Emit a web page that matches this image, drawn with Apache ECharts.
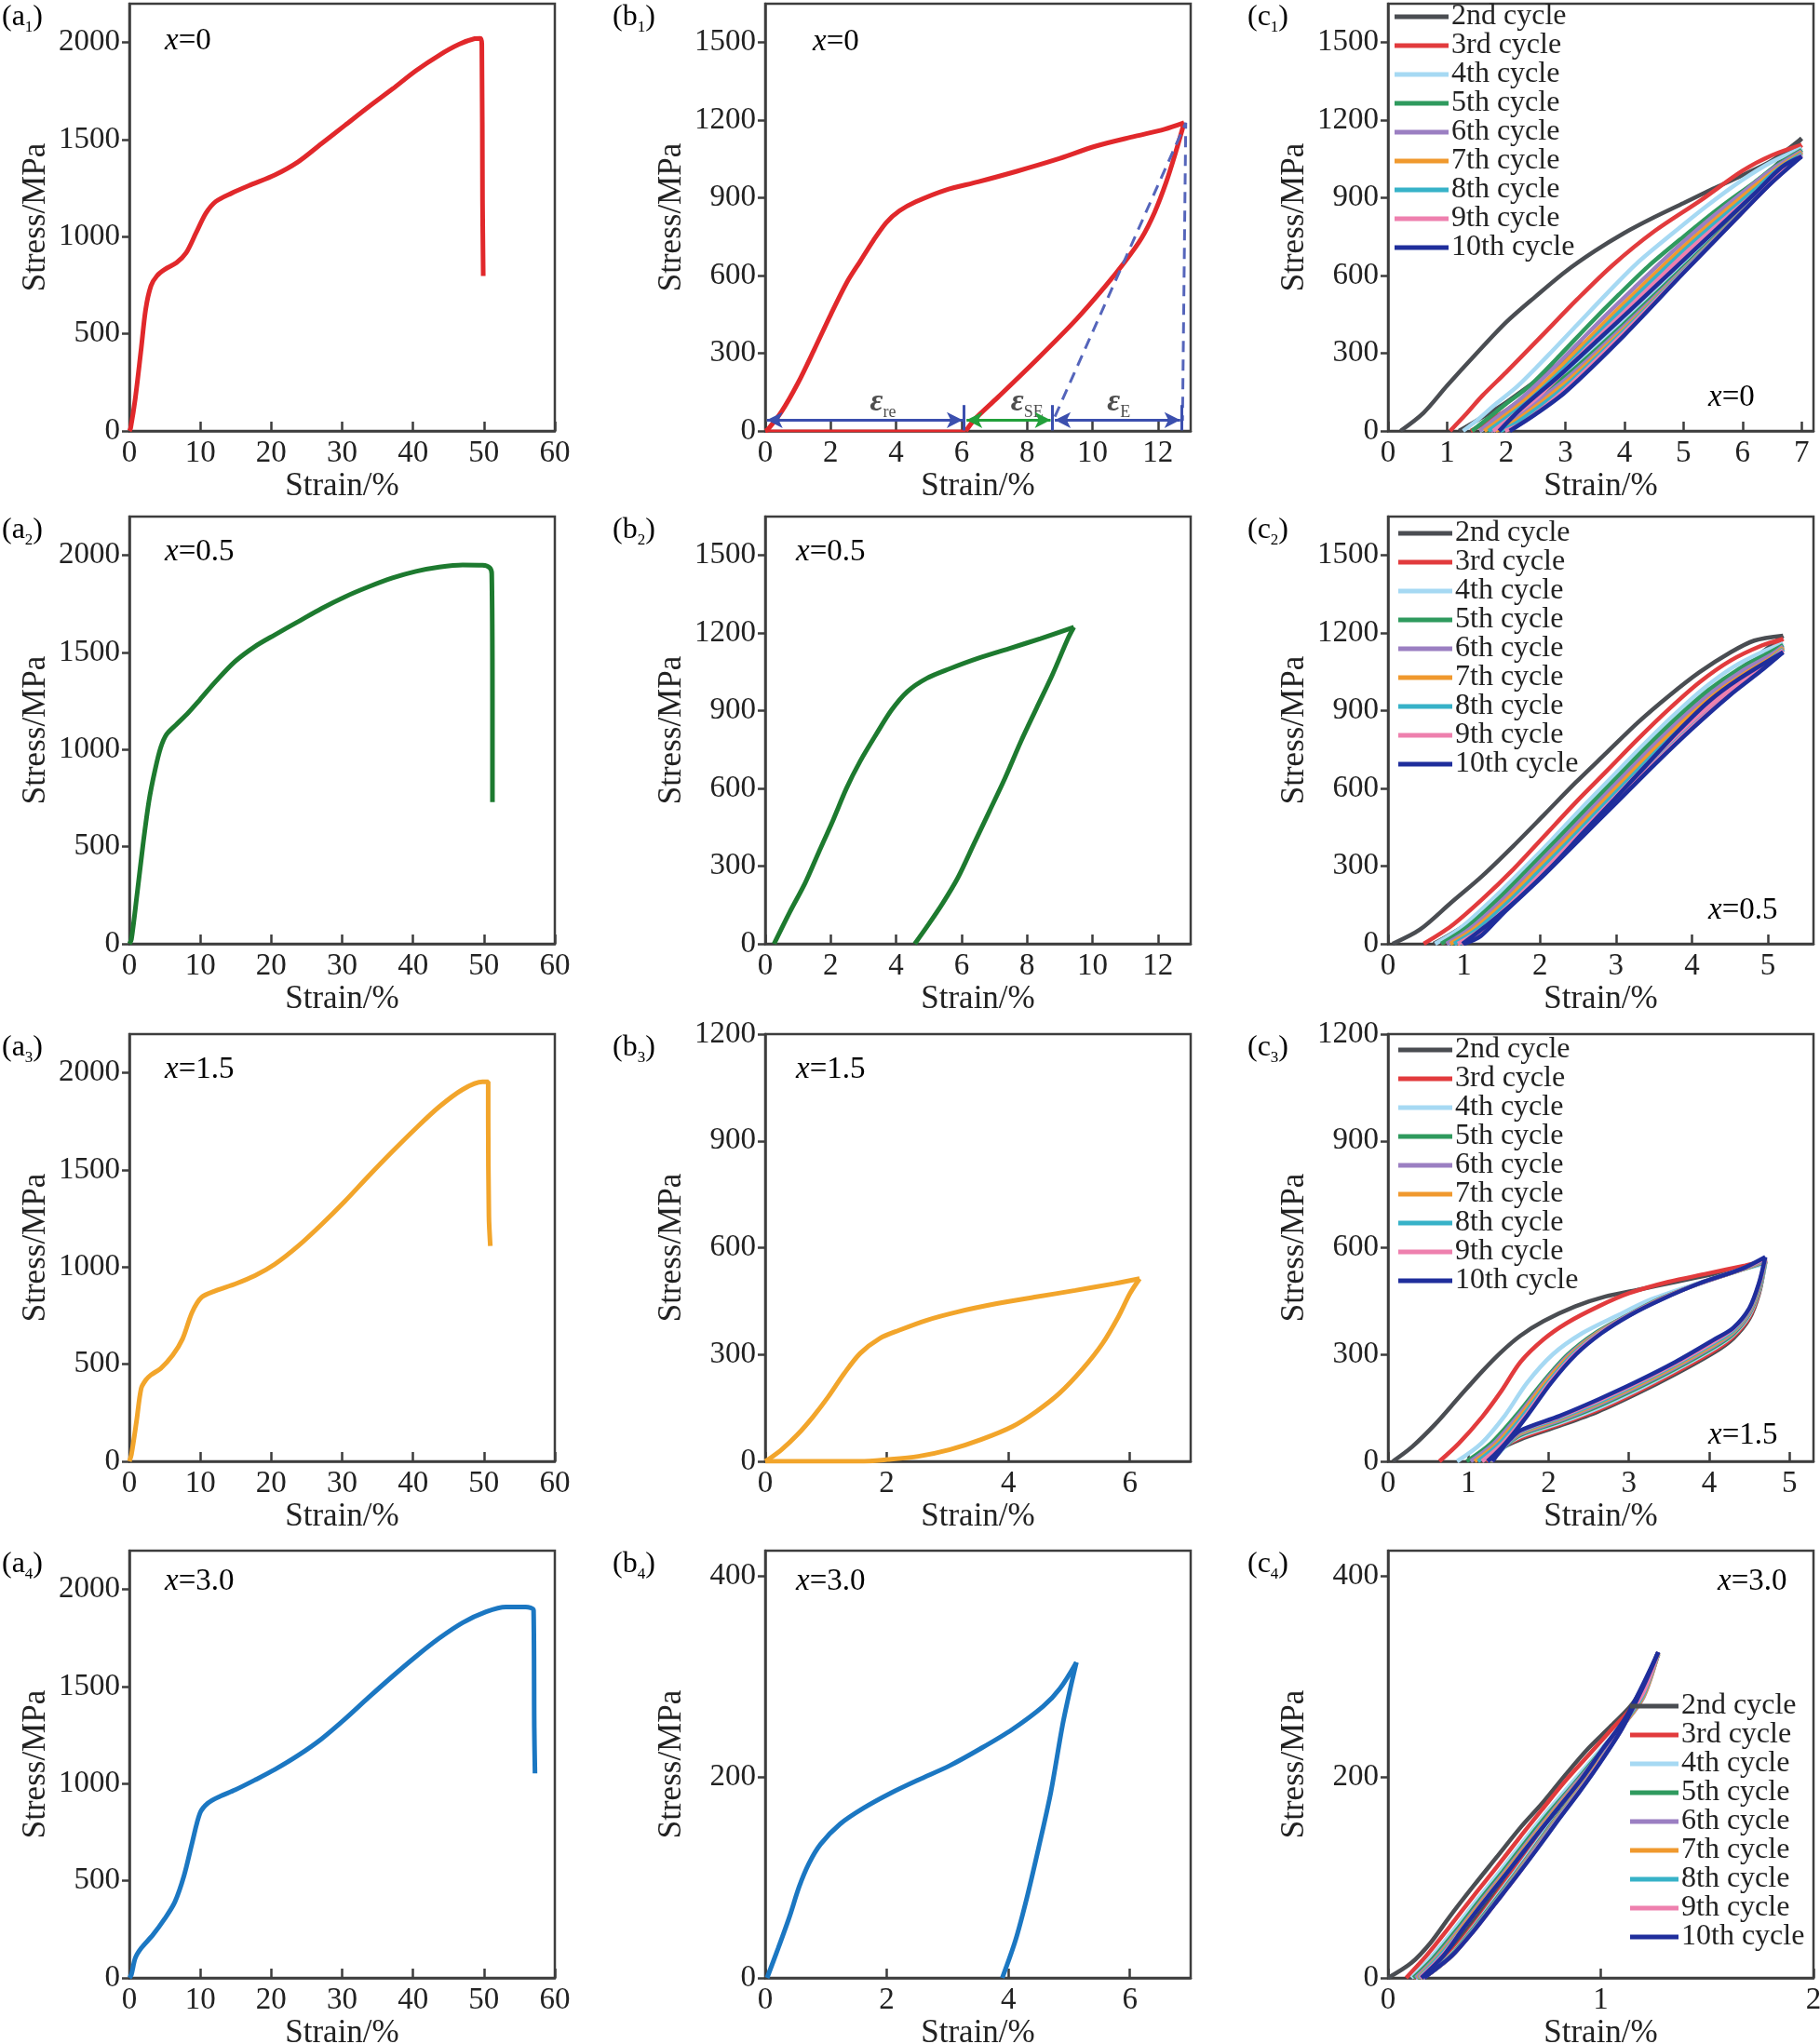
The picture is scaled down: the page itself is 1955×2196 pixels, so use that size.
<!DOCTYPE html>
<html><head><meta charset="utf-8">
<script src="https://cdn.jsdelivr.net/npm/echarts@6/dist/echarts.min.js"></script>
<style>html,body{margin:0;padding:0;background:#fff}#main{width:1955px;height:2196px}</style>
</head><body><div id="main"></div>
<script>
// ---------------- DATA ----------------
const aXTicks = [0,10,20,30,40,50,60];
const aYTicks = [0,500,1000,1500,2000];
const b12XTicks = [0,2,4,6,8,10,12];
const b12YTicks = [0,300,600,900,1200,1500];
const b3XTicks = [0,2,4,6];
const b3YTicks = [0,300,600,900,1200];
const b4XTicks = [0,2,4,6];
const b4YTicks = [0,200,400];
const c1XTicks = [0,1,2,3,4,5,6,7];
const c12YTicks = [0,300,600,900,1200,1500];
const c23XTicks = [0,1,2,3,4,5];
const c3YTicks = [0,300,600,900,1200];
const c4XTicks = [0,1,2];
const c4YTicks = [0,200,400];

const compLabels = ['x=0','x=0.5','x=1.5','x=3.0'];
const cycleNames = ['2nd cycle','3rd cycle','4th cycle','5th cycle','6th cycle','7th cycle','8th cycle','9th cycle','10th cycle'];

// tensile curves (strain %, stress MPa)
const a1Curve = [[0,0],[0.17,14],[0.83,167],[1.66,423],[2.3,627],[3.04,747],[3.87,798],[5.0,832],[6.64,866],[8.0,917],[9.4,1020],[10.8,1122],[12.2,1182],[14.4,1224],[17.1,1267],[20.5,1318],[23.8,1386],[27.1,1480],[30.4,1574],[33.7,1668],[37.1,1761],[40.4,1855],[43.7,1935],[46.5,1991],[48.7,2020],[49.5,2022],[49.7,1991],[49.8,1190],[49.9,798]];
const a2Curve = [[0,0],[0.28,22],[1.1,261],[1.94,517],[2.77,738],[3.6,892],[4.42,1011],[5.25,1079],[6.64,1130],[8.3,1190],[9.96,1258],[12.2,1352],[14.9,1454],[17.7,1531],[20.5,1591],[23.8,1659],[27.1,1727],[30.4,1787],[33.7,1838],[37.1,1884],[40.4,1918],[43.7,1940],[47,1951],[49.8,1949],[50.8,1937],[51.1,1906],[51.2,1250],[51.2,730]];
const a3Curve = [[0,0],[0.28,34],[1.0,205],[1.66,375],[2.3,418],[3.0,444],[4.4,478],[6.1,546],[7.5,631],[8.85,768],[10.2,845],[12.2,879],[14.9,913],[17.7,956],[20.5,1015],[23.8,1109],[27.1,1220],[30.4,1340],[33.7,1468],[37.1,1596],[40.4,1715],[43.7,1826],[47,1915],[49.8,1954],[50.6,1954],[50.6,1775],[50.7,1263],[50.9,1109]];
const a4Curve = [[0,0],[0.28,17],[0.83,102],[1.66,153],[3.3,221],[5.0,306],[6.4,390],[7.7,526],[8.85,696],[9.96,849],[11.06,900],[12.7,934],[14.9,968],[17.7,1019],[20.5,1073],[23.8,1146],[27.1,1231],[30.4,1333],[33.7,1443],[37.1,1553],[40.4,1655],[43.7,1749],[47,1829],[50.3,1885],[53.1,1910],[55.9,1910],[57,1893],[57.1,1290],[57.2,1053]];

// single load-unload cycles
const b1Load = [[0,0],[0.08,6],[0.5,75],[1.0,185],[1.5,315],[2.0,449],[2.5,575],[2.9,655],[3.3,735],[3.7,805],[4.1,850],[4.6,885],[5.5,930],[6.5,962],[7.69,1003],[8.89,1048],[10.1,1100],[11.3,1138],[12.2,1165],[12.8,1190]];
const b1Unload = [[12.8,1190],[12.55,1080],[12.25,960],[11.9,845],[11.5,745],[11.0,655],[10.4,560],[9.5,430],[8.3,276],[7.1,129],[6.4,45],[6.13,0]];
const b1Base = [[6.13,0],[0,0]];
const b1Dashed = [[8.85,55],[12.85,1190],[12.75,40]];
const b1Arrows = [[0.05,6.03,42],[6.15,8.72,42],[8.85,12.68,42]];
const b1Marks = [6.07,8.77,12.72];
const b1Strains = [[3.6,112,'re'],[8.0,112,'SE'],[10.8,112,'E']];

const b2Load = [[0.27,0],[0.74,120],[1.22,235],[1.64,355],[2.06,474],[2.48,600],[2.9,705],[3.38,807],[3.86,903],[4.34,974],[4.93,1025],[5.65,1063],[6.49,1102],[7.45,1140],[8.41,1179],[9.43,1223]];
const b2Unload = [[9.43,1223],[9.25,1179],[8.77,1038],[8.29,910],[7.81,781],[7.33,641],[6.85,512],[6.37,384],[5.89,256],[5.41,154],[4.93,64],[4.57,0]];

const b3Load = [[0,0],[0.05,5],[0.27,33],[0.53,75],[0.79,126],[1.04,182],[1.3,247],[1.56,303],[1.88,345],[2.2,368],[2.65,396],[3.17,420],[3.81,443],[4.46,462],[5.1,480],[5.74,499],[6.16,513]];
const b3Unload = [[6.16,513],[6.0,471],[5.81,406],[5.55,331],[5.23,261],[4.84,191],[4.46,140],[4.07,98],[3.55,61],[3.04,33],[2.52,14],[2.01,5],[1.56,0],[0,0]];

const b4Load = [[0.03,0],[0.21,29],[0.4,61],[0.56,91],[0.72,114],[0.91,133],[1.23,153],[1.62,169],[2.07,184],[2.52,197],[3.03,211],[3.54,228],[4.06,247],[4.57,270],[4.85,288],[5.12,314]];
const b4Unload = [[5.12,314],[5.02,288],[4.89,251],[4.7,185],[4.5,130],[4.31,81],[4.12,38],[3.9,0]];

// cyclic curves: one loading and one unloading branch per cycle (2nd ... 10th)
const c1Load = [
 [[0.21,0],[0.6,70],[1.0,175],[1.5,300],[2.0,420],[2.5,520],[3.0,615],[3.5,695],[4.0,765],[4.5,825],[5.0,880],[5.5,935],[6.0,988],[6.5,1045],[7.0,1130]],
 [[1.05,0],[1.3,60],[1.6,137],[2.0,227],[2.6,367],[3.2,508],[3.8,640],[4.5,770],[5.3,892],[6.0,1005],[6.5,1065],[7.0,1105]],
 [[1.27,0],[1.5,40],[1.8,100],[2.2,175],[2.7,290],[3.2,410],[3.7,530],[4.2,645],[4.8,760],[5.4,870],[6.0,970],[6.5,1040],[7.0,1092]],
 [[1.42,0],[1.7,50],[2.0,105],[2.4,175],[2.9,290],[3.4,410],[3.9,525],[4.4,635],[5.0,750],[5.6,860],[6.2,960],[6.6,1030],[7.0,1085]],
 [[1.55,0],[1.8,45],[2.2,115],[2.7,220],[3.2,335],[3.7,450],[4.2,560],[4.8,690],[5.4,810],[6.0,920],[6.5,1010],[7.0,1080]],
 [[1.63,0],[1.9,45],[2.3,115],[2.8,220],[3.3,335],[3.8,450],[4.3,560],[4.9,690],[5.5,810],[6.1,925],[6.6,1015],[7.0,1075]],
 [[1.7,0],[2.0,50],[2.4,120],[2.9,225],[3.4,340],[3.9,455],[4.4,565],[5.0,695],[5.6,815],[6.2,930],[6.6,1010],[7.0,1070]],
 [[1.78,0],[2.1,55],[2.5,125],[3.0,235],[3.5,350],[4.0,460],[4.5,570],[5.1,700],[5.7,820],[6.3,935],[6.7,1015],[7.0,1065]],
 [[1.88,0],[2.25,86],[2.9,214],[3.57,355],[4.23,495],[4.89,636],[5.55,777],[6.21,918],[6.67,1020],[7.0,1060]]
];
const c1Unload = [
 [[7.0,1130],[6.5,1010],[6.0,895],[5.0,680],[4.0,470],[3.0,280],[2.0,110],[1.5,40],[1.2,0]],
 [[7.0,1105],[6.5,985],[6.0,870],[5.0,650],[4.0,440],[3.0,245],[2.0,80],[1.6,25],[1.4,0]],
 [[7.0,1092],[6.5,975],[6.0,860],[5.0,640],[4.0,425],[3.0,225],[2.0,60],[1.55,0]],
 [[7.0,1085],[6.5,970],[6.0,855],[5.0,632],[4.0,415],[3.0,210],[2.0,45],[1.65,0]],
 [[7.0,1080],[6.5,968],[6.0,852],[5.0,625],[4.0,405],[3.0,198],[2.0,30],[1.74,0]],
 [[7.0,1075],[6.5,965],[6.0,850],[5.0,620],[4.0,395],[3.0,185],[2.2,45],[1.82,0]],
 [[7.0,1070],[6.5,962],[6.0,848],[5.0,617],[4.0,388],[3.0,172],[2.2,35],[1.9,0]],
 [[7.0,1065],[6.5,961],[6.0,846],[5.0,613],[4.0,380],[3.0,160],[2.3,35],[1.98,0]],
 [[7.0,1060],[6.5,960],[6.0,845],[5.0,610],[4.0,370],[3.0,150],[2.5,65],[2.06,0]]
];
const c2Load = [
 [[0.06,0],[0.42,55],[0.83,159],[1.24,262],[1.65,378],[2.06,500],[2.47,623],[2.88,739],[3.29,855],[3.7,958],[4.1,1049],[4.51,1126],[4.82,1171],[5.2,1190]],
 [[0.47,0],[0.83,68],[1.24,172],[1.65,288],[2.06,417],[2.47,546],[2.88,668],[3.29,791],[3.7,907],[4.1,1010],[4.51,1094],[4.92,1152],[5.2,1178]],
 [[0.62,0],[0.95,60],[1.35,165],[1.75,280],[2.15,400],[2.55,525],[2.95,645],[3.35,765],[3.75,880],[4.15,985],[4.55,1070],[4.95,1130],[5.2,1160]],
 [[0.7,0],[1.02,60],[1.42,165],[1.82,282],[2.22,402],[2.62,525],[3.02,645],[3.42,765],[3.82,878],[4.22,980],[4.62,1062],[5.0,1122],[5.2,1153]],
 [[0.77,0],[1.08,58],[1.48,162],[1.88,280],[2.28,400],[2.68,522],[3.08,642],[3.48,762],[3.88,874],[4.28,975],[4.68,1057],[5.05,1117],[5.2,1148]],
 [[0.82,0],[1.13,57],[1.53,160],[1.93,278],[2.33,398],[2.73,520],[3.13,640],[3.53,759],[3.93,870],[4.33,970],[4.73,1050],[5.08,1110],[5.2,1143]],
 [[0.87,0],[1.18,57],[1.58,160],[1.98,277],[2.38,396],[2.78,518],[3.18,638],[3.58,756],[3.98,866],[4.38,965],[4.78,1044],[5.1,1103],[5.2,1138]],
 [[0.92,0],[1.25,60],[1.65,165],[2.05,282],[2.45,402],[2.85,525],[3.25,645],[3.65,765],[4.05,874],[4.45,972],[4.85,1050],[5.2,1133]],
 [[0.98,0],[1.34,81],[1.75,184],[2.16,300],[2.57,430],[2.98,558],[3.39,687],[3.8,816],[4.21,933],[4.62,1023],[5.2,1126]]
];
const c2Unload = [
 [[5.2,1190],[4.9,1120],[4.5,1030],[4.0,905],[3.5,770],[3.0,625],[2.5,480],[2.0,335],[1.5,195],[1.0,70],[0.6,0]],
 [[5.2,1178],[4.9,1105],[4.5,1012],[4.0,885],[3.5,748],[3.0,603],[2.5,458],[2.0,312],[1.5,172],[1.0,50],[0.7,0]],
 [[5.2,1160],[4.9,1090],[4.5,998],[4.0,870],[3.5,732],[3.0,588],[2.5,443],[2.0,298],[1.5,160],[1.05,40],[0.78,0]],
 [[5.2,1153],[4.9,1082],[4.5,990],[4.0,862],[3.5,722],[3.0,578],[2.5,432],[2.0,288],[1.5,150],[1.1,40],[0.84,0]],
 [[5.2,1148],[4.9,1076],[4.5,983],[4.0,855],[3.5,715],[3.0,570],[2.5,424],[2.0,280],[1.5,142],[1.12,38],[0.88,0]],
 [[5.2,1143],[4.9,1070],[4.5,977],[4.0,848],[3.5,708],[3.0,562],[2.5,416],[2.0,272],[1.5,135],[1.15,37],[0.91,0]],
 [[5.2,1138],[4.9,1064],[4.5,971],[4.0,842],[3.5,702],[3.0,556],[2.5,410],[2.0,265],[1.5,128],[1.18,35],[0.94,0]],
 [[5.2,1133],[4.9,1058],[4.5,966],[4.0,836],[3.5,696],[3.0,550],[2.5,404],[2.0,258],[1.5,120],[1.2,33],[0.97,0]],
 [[5.2,1126],[4.9,1052],[4.5,960],[4.0,830],[3.5,690],[3.0,543],[2.5,397],[2.0,251],[1.5,113],[1.22,30],[1.0,0]]
];
const c3Load = [
 [[0.06,0],[0.3,41],[0.59,105],[0.88,179],[1.17,252],[1.41,307],[1.65,353],[1.94,394],[2.33,435],[2.71,463],[3.1,481],[3.58,504],[4.07,527],[4.55,550],[4.7,559]],
 [[0.64,0],[0.88,50],[1.17,124],[1.41,197],[1.65,279],[1.94,343],[2.23,389],[2.62,435],[3.0,472],[3.49,504],[3.97,527],[4.45,550],[4.7,563]],
 [[0.86,0],[1.16,50],[1.46,130],[1.73,220],[2.05,300],[2.42,360],[2.86,410],[3.28,455],[3.86,500],[4.43,540],[4.7,554]],
 [[0.98,0],[1.28,50],[1.6,130],[1.92,220],[2.24,300],[2.58,360],[2.98,410],[3.37,455],[3.89,500],[4.43,540],[4.7,560]],
 [[1.03,0],[1.32,50],[1.63,130],[1.94,220],[2.26,300],[2.6,360],[2.99,410],[3.38,455],[3.89,500],[4.42,540],[4.7,562]],
 [[1.08,0],[1.36,50],[1.66,130],[1.96,220],[2.28,300],[2.61,360],[3.0,410],[3.39,455],[3.88,500],[4.42,540],[4.7,565]],
 [[1.12,0],[1.39,50],[1.69,130],[1.99,220],[2.3,300],[2.63,360],[3.0,410],[3.4,455],[3.88,500],[4.41,540],[4.7,567]],
 [[1.17,0],[1.43,50],[1.72,130],[2.01,220],[2.32,300],[2.64,360],[3.0,410],[3.4,455],[3.88,500],[4.41,540],[4.7,570]],
 [[1.24,0],[1.46,50],[1.74,130],[2.03,220],[2.34,300],[2.66,360],[3.01,410],[3.41,455],[3.88,500],[4.4,540],[4.7,574]]
];
const c3Unload = [
 [[4.7,559],[4.62,470],[4.5,400],[4.3,345],[4.07,307],[3.58,245],[3.1,190],[2.62,140],[2.14,100],[1.65,62],[1.4,35],[1.2,0]],
 [[4.7,563],[4.62,475],[4.5,405],[4.3,350],[4.07,312],[3.58,250],[3.1,195],[2.62,145],[2.14,104],[1.65,66],[1.4,36],[1.22,0]],
 [[4.7,554],[4.62,478],[4.5,410],[4.3,355],[4.07,318],[3.58,256],[3.1,200],[2.62,150],[2.14,108],[1.65,70],[1.42,38],[1.24,0]],
 [[4.7,560],[4.62,482],[4.5,414],[4.3,358],[4.07,322],[3.58,260],[3.1,205],[2.62,155],[2.14,112],[1.65,74],[1.44,40],[1.25,0]],
 [[4.7,562],[4.62,486],[4.5,417],[4.3,362],[4.07,326],[3.58,264],[3.1,209],[2.62,159],[2.14,115],[1.65,77],[1.46,44],[1.26,0]],
 [[4.7,565],[4.62,490],[4.5,421],[4.3,365],[4.07,330],[3.58,268],[3.1,213],[2.62,163],[2.14,119],[1.65,80],[1.48,48],[1.27,0]],
 [[4.7,567],[4.62,493],[4.5,424],[4.3,368],[4.07,334],[3.58,272],[3.1,217],[2.62,166],[2.14,122],[1.65,83],[1.5,52],[1.28,0]],
 [[4.7,570],[4.62,497],[4.5,427],[4.3,372],[4.07,338],[3.58,275],[3.1,220],[2.62,170],[2.14,125],[1.65,85],[1.51,58],[1.29,0]],
 [[4.7,574],[4.62,500],[4.5,430],[4.3,375],[4.07,343],[3.58,279],[3.1,224],[2.62,174],[2.14,128],[1.65,87],[1.52,62],[1.4,30],[1.3,0]]
];
const c4Load = [
 [[0,0],[0.11,15],[0.2,35],[0.29,61],[0.4,91],[0.51,120],[0.62,149],[0.73,175],[0.83,201],[0.94,228],[1.05,251],[1.16,276],[1.27,324]],
 [[0.085,0],[0.18,22],[0.29,51],[0.4,81],[0.51,110],[0.62,140],[0.73,169],[0.83,195],[0.94,221],[1.05,247],[1.16,273],[1.27,322]],
 [[0.11,0],[0.2,20],[0.31,48],[0.42,78],[0.53,107],[0.64,137],[0.75,166],[0.86,193],[0.97,220],[1.08,247],[1.18,275],[1.27,322]],
 [[0.12,0],[0.21,19],[0.32,47],[0.43,77],[0.54,106],[0.65,136],[0.76,165],[0.87,192],[0.98,220],[1.09,248],[1.19,277],[1.27,322]],
 [[0.13,0],[0.22,19],[0.33,47],[0.44,77],[0.55,106],[0.66,136],[0.77,165],[0.88,193],[0.99,221],[1.1,250],[1.2,279],[1.27,323]],
 [[0.14,0],[0.23,20],[0.34,48],[0.45,78],[0.56,107],[0.67,137],[0.78,166],[0.89,194],[1.0,222],[1.1,250],[1.2,280],[1.27,323]],
 [[0.145,0],[0.24,21],[0.35,49],[0.46,79],[0.57,108],[0.68,138],[0.79,167],[0.9,196],[1.0,224],[1.11,254],[1.2,282],[1.27,324]],
 [[0.15,0],[0.25,21],[0.355,50],[0.465,80],[0.575,109],[0.685,139],[0.795,168],[0.905,197],[1.005,226],[1.115,257],[1.2,284],[1.27,324]],
 [[0.157,0],[0.26,22],[0.36,51],[0.47,81],[0.58,110],[0.69,140],[0.8,169],[0.91,198],[1.01,228],[1.12,260],[1.27,324]]
];
const c4Unload = [
 [[1.27,324],[1.2,290],[1.1,252],[1.0,225],[0.9,199],[0.8,172],[0.7,144],[0.6,115],[0.5,85],[0.4,57],[0.3,30],[0.2,10],[0.1,0]],
 [[1.27,322],[1.2,289],[1.1,250],[1.0,221],[0.9,194],[0.8,166],[0.7,138],[0.6,109],[0.5,80],[0.4,52],[0.3,26],[0.2,7],[0.12,0]],
 [[1.27,322],[1.2,288],[1.1,249],[1.0,220],[0.9,192],[0.8,164],[0.7,135],[0.6,106],[0.5,78],[0.4,50],[0.3,24],[0.2,6],[0.13,0]],
 [[1.27,322],[1.2,288],[1.1,249],[1.0,219],[0.9,191],[0.8,162],[0.7,133],[0.6,104],[0.5,76],[0.4,49],[0.3,23],[0.2,5],[0.14,0]],
 [[1.27,323],[1.2,289],[1.1,249],[1.0,218],[0.9,189],[0.8,161],[0.7,132],[0.6,103],[0.5,75],[0.4,48],[0.3,22],[0.2,5],[0.15,0]],
 [[1.27,323],[1.2,289],[1.1,249],[1.0,217],[0.9,188],[0.8,160],[0.7,131],[0.6,102],[0.5,74],[0.4,47],[0.3,22],[0.2,5],[0.155,0]],
 [[1.27,324],[1.2,290],[1.1,248],[1.0,216],[0.9,187],[0.8,159],[0.7,130],[0.6,101],[0.5,74],[0.4,47],[0.3,22],[0.2,5],[0.16,0]],
 [[1.27,324],[1.2,290],[1.1,248],[1.0,216],[0.9,186],[0.8,158],[0.7,129],[0.6,100],[0.5,73],[0.4,46],[0.3,22],[0.2,5],[0.165,0]],
 [[1.27,324],[1.2,290],[1.1,248],[1.0,215],[0.9,185],[0.8,157],[0.7,128],[0.6,100],[0.5,73],[0.4,46],[0.3,22],[0.2,5],[0.17,0]]
];

// ---------------- STYLE / LAYOUT ----------------
const FONT = 'Liberation Serif, Times New Roman, serif';
const TXT = '#222';
const AXC = '#3d3d3d';
const COL_LEFT = [139, 822, 1491];
const ROW_TOP = [4, 555, 1111, 1666];
const GW = 457, GH = 459;
const compColors = ['#e1282b', '#1d7a2f', '#f2a52b', '#1b77c2'];
const cycleColors = ['#4a4d52','#e23b3d','#a6d9f3','#2f9a5e','#9b7fc2','#f0992e','#37b2c8','#ee80ae','#1f2e9c'];

const panels = [
 {x:[0,60], xt:aXTicks, y:[0,2200], yt:aYTicks},
 {x:[0,13], xt:b12XTicks, y:[0,1650], yt:b12YTicks},
 {x:[0,7.2], xt:c1XTicks, y:[0,1650], yt:c12YTicks},
 {x:[0,60], xt:aXTicks, y:[0,2200], yt:aYTicks},
 {x:[0,13], xt:b12XTicks, y:[0,1650], yt:b12YTicks},
 {x:[0,5.6], xt:c23XTicks, y:[0,1650], yt:c12YTicks},
 {x:[0,60], xt:aXTicks, y:[0,2200], yt:aYTicks},
 {x:[0,7], xt:b3XTicks, y:[0,1200], yt:b3YTicks},
 {x:[0,5.3], xt:c23XTicks, y:[0,1200], yt:c3YTicks},
 {x:[0,60], xt:aXTicks, y:[0,2200], yt:aYTicks},
 {x:[0,7], xt:b4XTicks, y:[0,425], yt:b4YTicks},
 {x:[0,2], xt:c4XTicks, y:[0,425], yt:c4YTicks}
];

const grids = [], xAxes = [], yAxes = [];
panels.forEach((p, i) => {
  const row = Math.floor(i / 3), col = i % 3;
  grids.push({left: COL_LEFT[col], top: ROW_TOP[row], width: GW, height: GH,
    show: true, borderColor: AXC, borderWidth: 2.5, backgroundColor: 'transparent',
    containLabel: false, outerBoundsMode: 'none'});
  const xInt = p.xt[1] - p.xt[0], yInt = p.yt[1] - p.yt[0];
  const fmt = (int) => (v) => (Math.abs(v / int - Math.round(v / int)) < 1e-6 ? String(Math.round(v * 1000) / 1000) : '');
  xAxes.push({type: 'value', gridIndex: i, min: p.x[0], max: p.x[1], interval: xInt,
    name: 'Strain/%', nameLocation: 'middle', nameGap: 42,
    nameTextStyle: {fontFamily: FONT, fontSize: 35, color: TXT},
    axisLine: {show: true, onZero: false, lineStyle: {color: AXC, width: 2.5}},
    axisTick: {show: true, inside: true, length: 10, customValues: p.xt, lineStyle: {color: AXC, width: 2.5}},
    axisLabel: {fontFamily: FONT, fontSize: 33, color: TXT, margin: 8, customValues: p.xt, formatter: fmt(xInt),
      showMinLabel: true, showMaxLabel: true, hideOverlap: false},
    splitLine: {show: false}});
  yAxes.push({type: 'value', gridIndex: i, min: p.y[0], max: p.y[1], interval: yInt,
    name: 'Stress/MPa', nameLocation: 'middle', nameGap: 83,
    nameTextStyle: {fontFamily: FONT, fontSize: 35, color: TXT},
    axisLine: {show: true, onZero: false, lineStyle: {color: AXC, width: 2.5}},
    axisTick: {show: true, inside: false, length: 8, customValues: p.yt, lineStyle: {color: AXC, width: 2.5}},
    axisLabel: {fontFamily: FONT, fontSize: 33, color: TXT, margin: 10, customValues: p.yt, formatter: fmt(yInt),
      showMinLabel: true, showMaxLabel: true, hideOverlap: false},
    splitLine: {show: false}});
});

const series = [];
function addLine(name, data, idx, color, width, extra) {
  series.push(Object.assign({type: 'line', name: name, data: data, xAxisIndex: idx, yAxisIndex: idx,
    showSymbol: false, symbol: 'none', smooth: 0.3, silent: true, animation: false,
    lineStyle: {color: color, width: width}, itemStyle: {color: color}}, extra || {}));
}
// column a
[a1Curve, a2Curve, a3Curve, a4Curve].forEach((c, r) => addLine('tensile' + r, c, r * 3, compColors[r], 5));
// column b
addLine('b1load', b1Load, 1, compColors[0], 5);
addLine('b1unload', b1Unload, 1, compColors[0], 5);
addLine('b1base', b1Base, 1, compColors[0], 3, {smooth: false});
addLine('b1dash', b1Dashed, 1, '#5565bb', 3, {smooth: false, z: 3,
  lineStyle: {color: '#5565bb', width: 3, type: [12, 8]},
  markLine: {silent: true, animation: false, label: {show: false}, symbol: ['arrow', 'arrow'], symbolSize: [13, 17],
    lineStyle: {color: '#3b4fae', width: 3, type: 'solid'},
    data: b1Arrows.map((a, k) => [
      {coord: [a[0], a[2]], lineStyle: {color: k === 1 ? '#22a03a' : '#3b4fae', width: 3, type: 'solid'}, itemStyle: {color: k === 1 ? '#22a03a' : '#3b4fae'}},
      {coord: [a[1], a[2]]}
    ]).concat(b1Marks.map(m => [
      {coord: [m, 2], symbol: 'none', lineStyle: {color: '#3b4fae', width: 3, type: 'solid'}},
      {coord: [m, 100], symbol: 'none'}
    ]))}
});
series.push({type: 'scatter', name: 'strainLabels', xAxisIndex: 1, yAxisIndex: 1, symbolSize: 1, silent: true, animation: false,
  itemStyle: {color: 'rgba(0,0,0,0)'},
  data: b1Strains.map(d => ({value: [d[0], d[1]], label: {formatter: '{e|\u03b5}{s|' + d[2] + '}'}})),
  label: {show: true, position: 'inside',
    rich: {e: {fontFamily: FONT, fontSize: 34, fontStyle: 'italic', fontWeight: 'bold', color: TXT, lineHeight: 40},
           s: {fontFamily: FONT, fontSize: 18, color: TXT, lineHeight: 16, verticalAlign: 'bottom'}}}});
addLine('b2load', b2Load, 4, compColors[1], 5);
addLine('b2unload', b2Unload, 4, compColors[1], 5);
addLine('b3load', b3Load, 7, compColors[2], 5);
addLine('b3unload', b3Unload, 7, compColors[2], 5);
addLine('b4load', b4Load, 10, compColors[3], 5);
addLine('b4unload', b4Unload, 10, compColors[3], 5);
// column c
[[c1Load, c1Unload, 2], [c2Load, c2Unload, 5], [c3Load, c3Unload, 8], [c4Load, c4Unload, 11]].forEach(set => {
  for (let k = 0; k < cycleNames.length; k++) {
    addLine(cycleNames[k], set[0][k], set[2], cycleColors[k], 4.5);
    addLine(cycleNames[k], set[1][k], set[2], cycleColors[k], 4.5);
  }
});

const legendPos = [[1498, 2, 58], [1502, 557, 58], [1502, 1112, 58], [1751, 1817, 52]];
const legends = legendPos.map(lp => ({
  data: cycleNames, orient: 'vertical', left: lp[0], top: lp[1], itemWidth: lp[2], itemHeight: 5,
  itemGap: -1, padding: 0, icon: 'rect', selectedMode: false,
  textStyle: {fontFamily: FONT, fontSize: 32, color: TXT, lineHeight: 31, padding: [0, 0, 0, -2]}
}));

// panel labels and composition annotations
const graphics = [];
const letters = ['a', 'b', 'c'];
const labelDx = [-137, -164, -151];
for (let r = 0; r < 4; r++) {
  for (let c = 0; c < 3; c++) {
    graphics.push({type: 'text', x: COL_LEFT[c] + labelDx[c], y: ROW_TOP[r] + 15, silent: true,
      style: {text: '{p|(' + letters[c] + '}{s|' + (r + 1) + '}{p|)}', verticalAlign: 'middle', align: 'left',
        rich: {p: {fontFamily: FONT, fontSize: 32, color: TXT, lineHeight: 38},
               s: {fontFamily: FONT, fontSize: 17, color: TXT, lineHeight: 17, verticalAlign: 'bottom'}}}});
  }
}
const annPos = [
  [[38, 40], [51, 41], [344, -36, 'b']],
  [[38, 38], [33, 38], [344, -36, 'b']],
  [[38, 38], [33, 38], [344, -28, 'b']],
  [[38, 33], [33, 33], [354, 33]]
];
for (let r = 0; r < 4; r++) {
  const parts = compLabels[r].split('=');
  const txt = '{i|' + parts[0] + '}{n|=' + parts[1] + '}';
  const rich = {i: {fontFamily: FONT, fontSize: 33, fontStyle: 'italic', color: TXT},
                n: {fontFamily: FONT, fontSize: 33, color: TXT}};
  for (let c = 0; c < 3; c++) {
    const ap = annPos[r][c];
    const y = ap[2] === 'b' ? ROW_TOP[r] + GH + ap[1] : ROW_TOP[r] + ap[1];
    graphics.push({type: 'text', x: COL_LEFT[c] + ap[0], y: y, silent: true,
      style: {text: txt, rich: rich, verticalAlign: 'middle', align: 'left'}});
  }
}

const chart = echarts.init(document.getElementById('main'), null, {renderer: 'canvas'});
chart.setOption({
  backgroundColor: '#ffffff',
  animation: false,
  grid: grids, xAxis: xAxes, yAxis: yAxes,
  legend: legends,
  series: series,
  graphic: graphics
});
</script></body></html>
